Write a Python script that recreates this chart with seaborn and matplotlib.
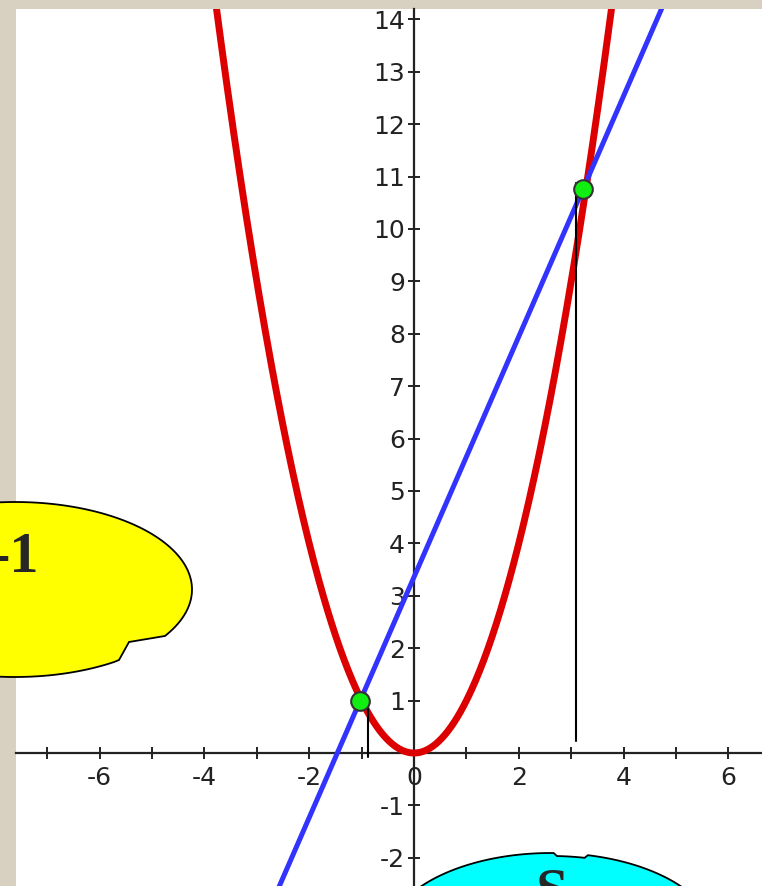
import numpy as np
import matplotlib.pyplot as plt
import seaborn as sns
from matplotlib.patches import Polygon
from matplotlib.ticker import FixedLocator

# Data
parabola_x = np.linspace(-4.0, 4.0, 400)
parabola_y = parabola_x ** 2          # the red curve is y = x^2

line_x = [-2.70, 4.85]                # blue secant, end points
line_y = [-2.84, 14.49]

dots_x = [-1.03, 3.23]                # green intersection points
dots_y = [0.99, 10.76]

drop_x = [-0.88, 3.09]                # thin black vertical marks
drop_y0 = [-0.08, 0.23]
drop_y1 = [0.90, 10.88]

x_ticks = list(range(-7, 7))
x_labels = ['' if v % 2 else str(v) for v in x_ticks]
y_ticks = [v for v in range(-2, 15) if v != 0]
y_labels = [str(v) for v in y_ticks]

W, H = 762, 886
sns.set_style('white')
plt.rcParams['font.family'] = ['DejaVu Sans']

fig = plt.figure(figsize=(W / 100, H / 100), dpi=100, facecolor='#d8d0c0')
ax = fig.add_axes([16 / W, 0, (W - 16) / W, (H - 9) / H])
ax.set_facecolor('white')

sns.lineplot(x=parabola_x, y=parabola_y, color='#dd0000', lw=5, ax=ax, zorder=4,
             sort=False)
sns.lineplot(x=line_x, y=line_y, color='#3333ff', lw=3.6, ax=ax, zorder=5)
for x, a, b in zip(drop_x, drop_y0, drop_y1):
    ax.plot([x, x], [a, b], color='black', lw=1.5, zorder=6)
sns.scatterplot(x=dots_x, y=dots_y, s=180, color='#11ee11', edgecolor='#333333',
                linewidth=1.5, ax=ax, zorder=7)

ax.set_xlim(-7.595, 6.641)
ax.set_ylim(-2.538, 14.198)

for s in ['top', 'right']:
    ax.spines[s].set_visible(False)
for s in ['left', 'bottom']:
    ax.spines[s].set_position(('data', 0))
    ax.spines[s].set_color('#222222')
    ax.spines[s].set_linewidth(1.6)

ax.xaxis.set_major_locator(FixedLocator(x_ticks))
ax.set_xticklabels(x_labels)
ax.yaxis.set_major_locator(FixedLocator(y_ticks))
ax.set_yticklabels(y_labels)
ax.tick_params(axis='both', direction='inout', length=8, width=1.4, color='#222222',
               labelsize=18, labelcolor='#222222', bottom=True, left=True)
ax.tick_params(axis='x', pad=5)
ax.tick_params(axis='y', pad=2.5)
ax.set_xlabel('')
ax.set_ylabel('')


def px(points):
    return [(x / W, 1 - y / H) for x, y in points]


# yellow callout on the left
cx, cy, a, b = 15, 589.5, 177, 87.5
t = np.linspace(0.977, 0.56 + 2 * np.pi, 200)
pts = list(zip(cx + a * np.cos(t), cy + b * np.sin(t)))
pts += [(129, 642), (119, 660)]
fig.add_artist(Polygon(px(pts), closed=True, facecolor='#ffff00', edgecolor='black',
                       lw=1.3, transform=fig.transFigure, zorder=10))
fig.text(39 / W, 1 - 572 / H, '-1', ha='right', va='baseline', fontsize=42,
         fontweight='bold', family='Liberation Serif', zorder=11)

# cyan callout at the bottom
cx, cy, a, b = 551, 940, 165, 87
t = np.linspace(0, 2 * np.pi, 300)
pts = [(x, y) for x, y in zip(cx + a * np.cos(t), cy + b * np.sin(t))]
pts = [(x, y + 3) if 556 < x < 585 and y < 900 else (x, y) for x, y in pts]
fig.add_artist(Polygon(px(pts), closed=True, facecolor='#00ffff', edgecolor='black',
                       lw=1.3, transform=fig.transFigure, zorder=10))
fig.text(552 / W, 1 - 907 / H, 'S', ha='center', va='baseline', fontsize=42,
         fontweight='bold', family='Liberation Serif', zorder=11)

fig.savefig('out.png', dpi=100, facecolor=fig.get_facecolor())
